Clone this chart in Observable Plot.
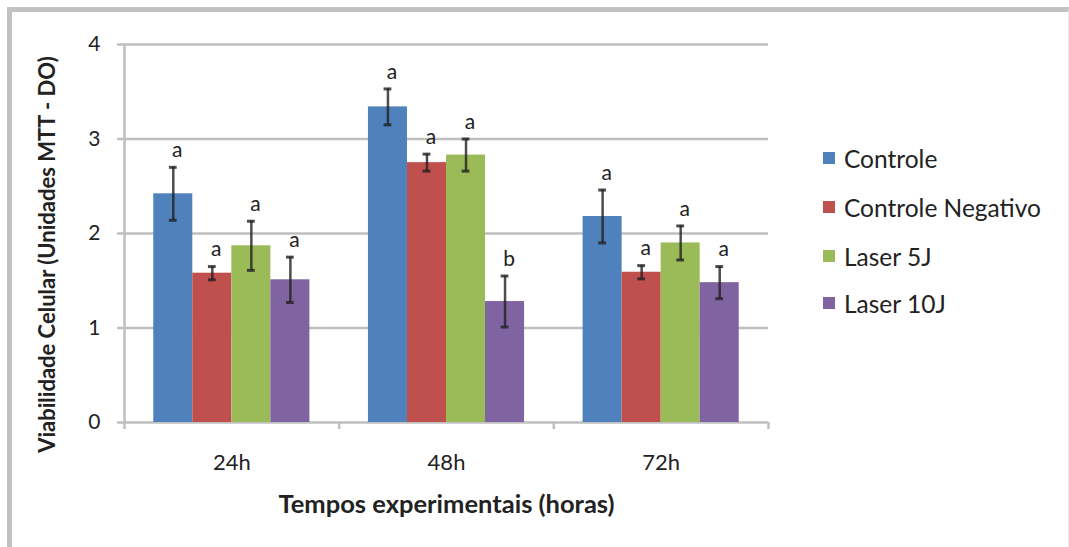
<!DOCTYPE html>
<html>
<head>
<meta charset="utf-8">
<script src="https://cdn.jsdelivr.net/npm/d3@7"></script>
<script src="https://cdn.jsdelivr.net/npm/@observablehq/plot@0.6"></script>
<style>
  html, body { margin: 0; padding: 0; background: #fff; }
  #wrap { position: relative; width: 1069px; height: 547px; overflow: hidden; font-family: Lato, "Open Sans", sans-serif; color: #222; }
  #frame { position: absolute; left: 7px; top: 7px; width: 1062px; height: 600px; border-top: 5px solid #c2c2c2; border-left: 5px solid #c2c2c2; border-right: 1px solid #ececec; box-sizing: border-box; }
  #chart { position: absolute; left: 0; top: 0; }
  #legend { position: absolute; left: 823px; top: 0; }
  .item { position: absolute; left: 0; display: flex; align-items: center; white-space: nowrap; font-size: 24.5px; }
  .sw { width: 12px; height: 12px; margin-right: 9px; }
</style>
</head>
<body>
<div id="wrap">
  <div id="frame"></div>
  <div id="chart"></div>
  <div id="legend"></div>
</div>
<script>
const times = ["24h", "48h", "72h"];
const series = ["Controle", "Controle Negativo", "Laser 5J", "Laser 10J"];
const colors = ["#4f81bd", "#c0504d", "#9bbb59", "#8064a2"];

const controle = [2.42, 3.34, 2.18];
const controleErr = [0.28, 0.19, 0.28];
const negativo = [1.58, 2.75, 1.59];
const negativoErr = [0.07, 0.09, 0.07];
const laser5 = [1.87, 2.83, 1.90];
const laser5Err = [0.26, 0.17, 0.18];
const laser10 = [1.51, 1.28, 1.48];
const laser10Err = [0.24, 0.27, 0.17];

const controleLetters = ["a", "a", "a"];
const negativoLetters = ["a", "a", "a"];
const laser5Letters = ["a", "a", "a"];
const laser10Letters = ["a", "b", "a"];

const yTicks = [0, 1, 2, 3, 4];
const xTitle = "Tempos experimentais (horas)";
const yTitle = "Viabilidade Celular (Unidades MTT - DO)";

const means = [controle, negativo, laser5, laser10];
const errs = [controleErr, negativoErr, laser5Err, laser10Err];
const letters = [controleLetters, negativoLetters, laser5Letters, laser10Letters];

// Excel-style clustered columns: gap width 150% of a bar
const GAP = 1.5;
const W = series.length + GAP;
const rows = times.flatMap((t, g) => series.map((s, k) => ({
  time: t, series: s, g, k,
  mean: means[k][g], err: errs[k][g], letter: letters[k][g]
})));
const x1 = d => d.g * W + GAP / 2 + d.k;
const x2 = d => x1(d) + 1;
const xc = d => x1(d) + 0.5;
const edges = d3.range(times.length + 1).map(i => i * W);
const centers = times.map((t, i) => i * W + W / 2);

const grid = "#bfbfbf";
const errColor = "#202020";

const chart = Plot.plot({
  width: 1069,
  height: 547,
  marginLeft: 124,
  marginRight: 301,
  marginTop: 44,
  marginBottom: 125,
  style: { fontFamily: "Lato, 'Open Sans', sans-serif", color: "#222", background: "transparent" },
  x: { domain: [0, times.length * W], axis: null },
  y: { domain: [0, 4], axis: null },
  color: { domain: series, range: colors },
  marks: [
    Plot.ruleY(yTicks, { stroke: grid, strokeWidth: 2.5 }),
    Plot.ruleX([0], { stroke: grid, strokeWidth: 2.5 }),
    Plot.axisY(yTicks, { tickSize: 7, tickPadding: 17, stroke: grid, strokeWidth: 2.5, fontSize: 21, label: null, tickFormat: d => String(d) }),
    Plot.axisX(edges, { tickSize: 7, tickFormat: () => "", stroke: grid, strokeWidth: 2.5, label: null }),
    Plot.axisX(centers, { tickSize: 0, tickPadding: 32, tickFormat: (d, i) => times[i], fontSize: 22, label: null }),
    Plot.rectY(rows, { x1, x2, y: "mean", fill: "series" }),
    Plot.ruleX(rows, { x: xc, y1: d => d.mean - d.err, y2: d => d.mean + d.err, stroke: errColor, strokeOpacity: 0.8, strokeWidth: 2.5 }),
    Plot.ruleY(rows, { y: d => d.mean + d.err, x1: d => xc(d) - 0.1, x2: d => xc(d) + 0.1, stroke: errColor, strokeOpacity: 0.8, strokeWidth: 3 }),
    Plot.ruleY(rows, { y: d => d.mean - d.err, x1: d => xc(d) - 0.1, x2: d => xc(d) + 0.1, stroke: errColor, strokeOpacity: 0.8, strokeWidth: 3 }),
    Plot.text(rows, { x: xc, y: d => d.mean + d.err, text: "letter", dy: -17, dx: 4, fontSize: 21, fill: "#222" }),
    Plot.text([xTitle], { frameAnchor: "bottom", dy: 90, fontSize: 25.5, fontWeight: "bold", fill: "#222" }),
    Plot.text([yTitle], { frameAnchor: "left", textAnchor: "middle", rotate: -90, dx: -77, dy: 21, fontSize: 22, fontWeight: "bold", fill: "#222" })
  ]
});
document.getElementById("chart").appendChild(chart);

const legendY = [158, 207, 256, 303];
const legend = document.getElementById("legend");
series.forEach((s, i) => {
  const item = document.createElement("div");
  item.className = "item";
  item.style.top = (legendY[i] - 14) + "px";
  item.style.height = "28px";
  const sw = document.createElement("div");
  sw.className = "sw";
  sw.style.background = colors[i];
  const label = document.createElement("span");
  label.textContent = s;
  item.appendChild(sw);
  item.appendChild(label);
  legend.appendChild(item);
});
</script>
</body>
</html>
